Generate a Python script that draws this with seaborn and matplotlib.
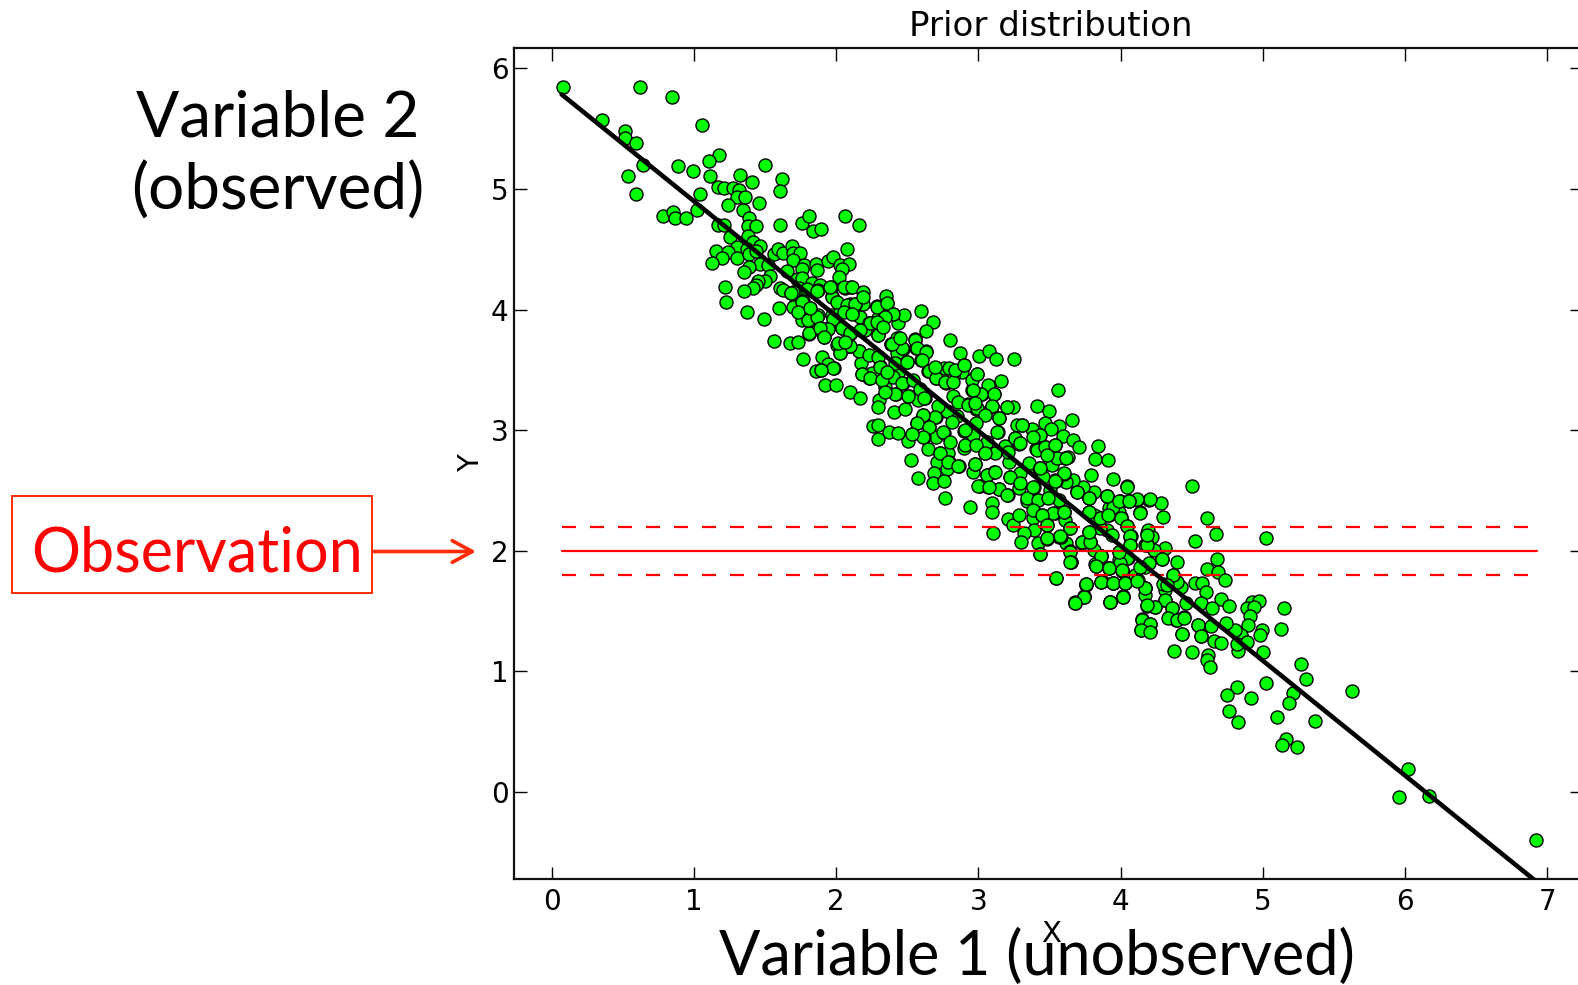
import matplotlib

matplotlib.use("Agg")

import matplotlib.pyplot as plt
import pandas as pd
import seaborn as sns

W, H = 1578, 985

# (variable 1, variable 2) samples, by region
upper_points = [
    (.083, 5.85), (.622, 5.85), (.845, 5.76), (1.055, 5.53), (.357, 5.57), (.517, 5.48), (.519, 5.42), (.591, 5.38),
    (.641, 5.2), (.54, 5.11), (.594, 4.96), (.887, 5.19), (.992, 5.15), (1.177, 5.28), (1.105, 5.23), (1.114, 5.11),
    (1.323, 5.12), (1.503, 5.2), (1.407, 5.06), (1.623, 5.08), (1.606, 4.98), (1.046, 4.96), (1.171, 5.02), (1.21, 5.01),
    (1.278, 5.01), (1.318, 4.99), (1.306, 4.93), (1.356, 4.93), (1.243, 4.87), (1.461, 4.88), (1.346, 4.83), (1.025, 4.83),
    (.786, 4.78), (.851, 4.81), (.866, 4.76), (.943, 4.76), (1.173, 4.70), (1.213, 4.70), (1.386, 4.76), (1.377, 4.69),
    (1.434, 4.69), (1.602, 4.70), (1.761, 4.72), (1.811, 4.78), (1.839, 4.65), (1.892, 4.67), (2.061, 4.78), (2.16, 4.70),
    (1.255, 4.60), (1.377, 4.61), (1.417, 4.56), (1.466, 4.53), (1.306, 4.52), (1.372, 4.50), (1.154, 4.49), (1.243, 4.48),
    (1.196, 4.43), (1.126, 4.39), (1.302, 4.43), (1.384, 4.46), (1.437, 4.49), (1.56, 4.46), (1.594, 4.50), (1.63, 4.47),
    (1.69, 4.53), (1.70, 4.47), (1.747, 4.47), (1.70, 4.41), (1.775, 4.37), (1.763, 4.34), (1.857, 4.38), (1.869, 4.33),
    (1.94, 4.40), (1.977, 4.44), (2.029, 4.37), (2.094, 4.375), (2.08, 4.505), (2.04, 4.34), (2.02, 4.27), (1.466, 4.38),
    (1.524, 4.37), (1.384, 4.35), (1.349, 4.31), (1.654, 4.32), (1.535, 4.28), (1.5, 4.24), (1.453, 4.24), (1.437, 4.20),
    (1.418, 4.18), (1.22, 4.19), (1.349, 4.15), (1.224, 4.06), (1.374, 3.98), (1.6, 4.01), (1.491, 3.92), (1.604, 4.18),
    (1.63, 4.16), (1.681, 4.14), (1.724, 4.25), (1.763, 4.26), (1.738, 4.18), (1.83, 4.22), (1.884, 4.20), (1.794, 4.17),
    (1.873, 4.16), (1.962, 4.19), (1.97, 4.11), (2.061, 4.18), (2.105, 4.19), (1.705, 4.03), (1.765, 4.07), (1.817, 4.01),
    (1.875, 3.955), (1.76, 3.91), (1.81, 3.905), (1.566, 3.74), (1.678, 3.72), (1.73, 3.73), (1.81, 3.80), (1.918, 3.78),
    (1.885, 3.83), (1.946, 3.84), (2.005, 3.71), (2.094, 3.70), (2.04, 3.845), (2.10, 3.80), (1.97, 3.955), (2.029, 3.98),
    (2.11, 3.97), (2.138, 4.04), (2.165, 3.94), (2.10, 4.05),
]
middle_points = [
    (2.595, 3.986), (2.68, 3.897), (2.633, 3.825), (2.804, 3.748), (2.872, 3.643), (3.008, 3.615), (3.078, 3.654),
    (3.123, 3.588), (3.254, 3.588), (3.163, 3.411), (3.557, 3.331), (3.411, 3.198), (3.5, 3.159), (3.205, 3.19),
    (3.247, 3.195), (3.657, 3.085), (3.47, 3.057), (3.568, 3.035), (3.514, 3.013), (3.592, 2.952), (3.665, 2.916),
    (3.711, 2.861), (3.84, 2.872), (3.822, 2.764), (3.909, 2.756), (3.79, 2.626), (3.948, 2.595), (4.046, 2.535),
    (4.197, 2.424), (4.115, 2.424), (4.063, 2.413), (3.995, 2.416), (3.906, 2.454), (3.775, 2.44), (3.81, 2.49),
    (3.693, 2.493), (3.739, 2.532), (3.669, 2.587), (3.617, 2.568), (3.599, 2.64), (3.543, 2.581), (3.547, 2.767),
    (3.61, 2.767), (3.634, 2.781), (3.538, 2.875), (3.474, 2.863), (3.435, 2.96), (3.407, 2.841), (3.376, 3.007),
    (3.308, 3.043), (3.27, 3.043), (3.261, 2.933), (3.289, 2.886), (3.186, 2.872), (3.135, 2.982), (3.147, 3.098),
    (3.095, 3.203), (2.987, 3.176), (2.924, 3.22), (3.111, 3.303), (3.074, 3.369), (3.025, 3.297), (2.992, 3.466),
    (2.958, 3.333), (2.902, 3.541), (2.884, 3.485), (2.802, 3.511), (2.821, 3.444), (2.762, 3.518), (2.771, 3.389),
    (2.701, 3.433), (2.647, 3.491), (2.598, 3.582), (2.633, 3.654), (2.565, 3.684), (2.556, 3.753), (2.469, 3.676),
    (2.445, 3.762), (2.385, 3.712), (2.434, 3.886), (2.4, 3.966), (2.474, 3.953), (2.357, 4.052), (2.285, 4.03),
    (2.192, 4.05), (2.134, 4.043), (2.115, 3.97), (2.232, 3.886), (2.298, 3.928), (2.345, 3.95), (2.293, 3.79),
    (2.094, 3.701), (2.164, 3.66), (2.028, 3.637), (1.916, 3.77), (1.81, 3.805), (1.946, 3.845), (1.899, 3.61),
    (1.766, 3.588), (1.94, 3.546), (1.988, 3.513), (1.86, 3.494), (1.893, 3.5), (1.923, 3.375), (1.998, 3.375),
    (2.098, 3.32), (2.169, 3.264), (2.174, 3.56), (2.298, 3.604), (2.18, 3.466), (2.234, 3.43), (2.361, 3.477),
    (2.31, 3.535), (2.438, 3.477), (2.502, 3.568), (2.469, 3.394), (2.345, 3.361), (2.42, 3.3), (2.3, 3.25),
    (2.293, 3.195), (2.511, 3.286), (2.624, 3.264), (2.579, 3.253), (2.41, 3.148), (2.485, 3.176), (2.612, 3.126),
    (2.568, 3.057), (2.7, 3.112), (2.656, 3.024), (2.771, 3.159), (2.849, 3.118), (2.701, 2.945), (2.759, 2.98),
    (2.619, 2.941), (2.532, 2.966), (2.509, 2.908), (2.375, 2.982), (2.438, 2.98), (2.256, 3.035), (2.298, 3.043),
    (2.298, 2.924), (2.647, 2.841), (2.732, 2.814), (2.79, 2.814), (2.525, 2.75), (2.706, 2.733), (2.795, 2.733),
    (2.778, 2.676), (2.861, 2.703), (2.685, 2.648), (2.579, 2.601), (2.682, 2.559), (2.759, 2.576), (2.768, 2.435),
    (2.945, 2.366), (3.097, 2.394), (3.097, 2.324), (3.069, 2.532), (3.012, 2.537), (2.966, 2.651), (2.978, 2.72),
    (2.896, 2.85), (2.907, 2.877), (2.9, 2.997), (2.966, 2.96), (3.048, 2.808), (3.048, 3.14), (3.219, 2.733),
    (3.113, 2.656), (3.224, 2.615), (3.059, 2.628), (3.144, 2.51), (3.207, 2.46), (3.283, 2.518), (3.341, 2.416),
    (3.394, 2.532), (3.418, 2.421), (3.294, 2.642), (3.364, 2.706), (3.43, 2.684), (3.494, 2.717), (3.494, 2.443),
    (3.564, 2.421), (3.599, 2.324), (3.212, 2.261), (3.247, 2.211), (3.283, 2.297), (3.388, 2.27), (3.447, 2.297),
    (3.486, 2.214), (3.54, 2.311), (3.61, 2.255), (3.394, 2.17), (3.318, 2.148), (3.102, 2.148), (3.301, 2.073),
    (3.423, 2.068), (3.482, 2.096), (3.564, 2.112), (3.618, 2.068), (3.435, 1.973), (3.646, 1.998), (3.651, 1.907),
    (3.545, 1.773), (3.758, 1.722), (3.742, 1.625), (3.821, 1.886), (3.868, 1.747), (3.922, 1.857), (4.009, 1.841),
    (3.945, 1.73), (4.033, 1.73), (4.017, 1.625), (3.927, 1.578), (3.68, 1.578), (3.864, 1.957), (3.986, 1.924),
    (4.056, 1.938), (3.786, 2.076), (3.728, 2.068), (3.904, 2.172), (4.068, 2.117), (4.173, 2.048), (4.185, 2.145),
    (3.997, 2.286), (3.916, 2.352), (3.845, 2.28), (3.775, 2.311), (4.138, 2.319), (4.1, 1.799), (4.173, 1.689),
    (4.173, 1.868),
]
lower_points = [
    (4.506, 2.537), (4.047, 2.532), (4.605, 2.275), (4.672, 2.142), (4.522, 2.081), (5.022, 2.109), (4.286, 2.399),
    (4.209, 2.427), (4.115, 2.427), (4.063, 2.413), (3.993, 2.416), (3.908, 2.458), (3.693, 2.49), (3.775, 2.441),
    (4.297, 2.283), (4.138, 2.316), (4.002, 2.283), (3.857, 2.269), (3.775, 2.325), (3.6, 2.325), (3.58, 2.112),
    (3.646, 2.186), (3.786, 2.076), (3.732, 2.076), (4.074, 2.123), (4.192, 2.172), (4.22, 2.117), (4.185, 2.054),
    (4.068, 2.048), (4.314, 2.02), (4.29, 1.929), (4.396, 1.904), (4.677, 1.929), (4.605, 1.852), (4.684, 1.824),
    (4.736, 1.761), (4.366, 1.799), (4.396, 1.741), (4.524, 1.736), (4.571, 1.73), (4.6, 1.656), (4.461, 1.564),
    (4.566, 1.564), (4.705, 1.603), (4.766, 1.545), (4.644, 1.526), (4.921, 1.578), (4.975, 1.584), (4.888, 1.523),
    (4.942, 1.537), (4.907, 1.457), (5.146, 1.523), (5.129, 1.349), (4.893, 1.382), (4.998, 1.343), (4.982, 1.302),
    (4.848, 1.302), (4.807, 1.343), (4.742, 1.404), (4.635, 1.379), (4.543, 1.388), (4.449, 1.448), (4.391, 1.426),
    (4.344, 1.454), (4.36, 1.528), (4.244, 1.531), (4.185, 1.542), (4.31, 1.592), (4.173, 1.689), (4.032, 1.733),
    (3.95, 1.73), (3.861, 1.744), (3.758, 1.719), (3.543, 1.772), (3.744, 1.62), (3.681, 1.57), (3.925, 1.573),
    (4.016, 1.617), (4.15, 1.432), (4.143, 1.343), (4.209, 1.338), (4.204, 1.393), (4.431, 1.31), (4.565, 1.296),
    (4.658, 1.249), (4.703, 1.238), (4.377, 1.172), (4.503, 1.161), (4.618, 1.136), (4.607, 1.095), (4.63, 1.036),
    (4.825, 1.172), (4.818, 1.227), (4.888, 1.241), (5.005, 1.161), (5.268, 1.064), (5.305, .937), (5.026, .904),
    (4.82, .873), (4.752, .807), (4.918, .782), (5.216, .824), (5.188, .735), (5.626, .835), (4.764, .672), (4.827, .583),
    (5.099, .619), (5.371, .591), (5.161, .442), (5.132, .39), (5.244, .376), (3.826, 1.877), (3.922, 1.857), (4.009, 1.835),
    (3.864, 1.957), (3.986, 1.993), (3.81, 2.006), (3.646, 1.993), (3.65, 1.91), (4.049, 1.938), (4.197, 1.896),
    (4.138, 1.868), (4.232, 2.007), (3.997, 1.896), (4.126, 1.758), (4.173, 1.634), (4.314, 1.675), (4.424, 1.697),
    (4.302, 1.725), (3.857, 2.192), (3.775, 2.159), (4.044, 2.206), (3.939, 2.131), (3.991, 2.325), (3.916, 2.297),
    (3.81, 2.297), (3.95, 2.366), (3.528, 2.311), (5.96, -.04), (6.02, .19), (6.17, -.03), (6.92, -.40),
]
# extra samples inside the dense band
core_upper = [
    (1.7, 4.024), (1.759, 4.066), (1.735, 3.983), (1.805, 3.914), (1.864, 3.941), (1.817, 4.01), (1.97, 4.107),
    (2.005, 4.066), (2.075, 4.038), (2.134, 4.044), (2.052, 3.983), (2.115, 3.964), (1.981, 3.923), (1.946, 3.836),
    (2.039, 3.845), (2.098, 3.803), (2.204, 3.831), (2.239, 3.886), (2.286, 4.024), (2.349, 4.113), (2.356, 4.052),
    (2.398, 3.963), (2.345, 3.941), (2.286, 3.9), (2.298, 3.79), (2.387, 3.715), (2.427, 3.762), (2.333, 3.858),
    (2.164, 3.659), (2.098, 3.698), (2.028, 3.637), (2.228, 3.623), (2.298, 3.61), (2.357, 3.477), (2.251, 3.477),
    (2.18, 3.466), (2.24, 3.43), (2.31, 3.527), (2.427, 3.637), (2.415, 3.553), (2.403, 3.441), (2.321, 3.416),
    (1.981, 3.513), (1.892, 3.5), (1.888, 3.845), (1.916, 3.776), (2.016, 3.72), (2.063, 3.734), (2.17, 3.831),
    (1.7, 4.149), (1.682, 4.14), (1.869, 4.157), (1.958, 4.185), (2.058, 4.185), (2.11, 4.19), (2.186, 4.149),
    (2.186, 4.102),
]
core_middle = [
    (2.462, 3.679), (2.392, 3.715), (2.446, 3.762), (2.556, 3.748), (2.567, 3.679), (2.633, 3.651), (2.603, 3.582),
    (2.497, 3.568), (2.65, 3.491), (2.361, 3.48), (2.703, 3.43), (2.462, 3.394), (2.544, 3.416), (2.591, 3.339),
    (2.509, 3.284), (2.62, 3.264), (2.415, 3.3), (2.345, 3.32), (2.697, 3.527), (2.795, 3.518), (2.767, 3.403),
    (2.825, 3.403), (2.837, 3.499), (2.9, 3.54), (2.954, 3.416), (2.99, 3.463), (3.071, 3.375), (3.107, 3.3),
    (3.02, 3.3), (2.961, 3.33), (2.821, 3.284), (2.86, 3.237), (2.93, 3.209), (2.99, 3.181), (3.095, 3.201),
    (3.048, 3.126), (3.142, 3.098), (2.978, 3.224), (3.2, 3.19), (2.78, 3.162), (2.72, 3.203), (2.697, 3.112),
    (2.61, 3.126), (2.569, 3.057), (2.654, 3.024), (2.755, 2.982), (2.614, 2.941), (2.532, 2.966), (2.814, 3.071),
    (2.903, 3.002), (2.985, 3.057), (3.06, 2.905), (3.13, 2.988), (2.985, 2.877), (3.118, 2.814), (3.048, 2.808),
    (2.802, 2.905), (2.732, 2.814), (2.79, 2.739), (2.86, 2.703), (2.978, 2.717), (3.06, 2.628), (3.114, 2.656),
    (3.224, 2.615), (3.294, 2.559), (3.142, 2.51), (3.0, 2.54), (3.072, 2.526), (3.205, 2.463), (3.341, 2.435),
    (3.418, 2.421), (3.259, 2.933), (3.306, 3.043), (3.212, 2.822), (3.294, 2.891), (3.412, 2.836), (3.47, 2.864),
    (3.54, 2.877), (3.435, 2.96), (3.388, 2.946), (3.353, 2.725), (3.435, 2.684), (3.517, 2.711), (3.552, 2.767),
    (3.481, 2.794), (3.617, 2.767), (3.388, 2.532), (3.507, 2.504), (3.542, 2.587), (3.601, 2.642), (3.458, 2.615),
]
core_lower = [
    (3.599, 2.324), (3.54, 2.582), (3.435, 2.684), (3.493, 2.436), (3.388, 2.339), (3.447, 2.297), (3.482, 2.214),
    (3.645, 2.186), (3.576, 2.122), (3.482, 2.104), (3.435, 1.974), (3.645, 1.91), (3.728, 2.076), (3.787, 2.076),
    (3.775, 2.159), (3.857, 2.269), (3.775, 2.436), (3.693, 2.49), (3.908, 2.454), (3.992, 2.416), (4.06, 2.413),
    (3.775, 2.325), (3.915, 2.297), (4.002, 2.275), (4.044, 2.206), (4.068, 2.123), (4.185, 2.048), (4.185, 2.131),
    (4.29, 1.929), (4.068, 2.048), (3.986, 1.993), (3.861, 1.958), (3.826, 1.877), (3.92, 1.86), (4.009, 1.841),
    (3.861, 1.744), (3.95, 1.73), (4.032, 1.73), (3.758, 1.722), (3.744, 1.62), (3.681, 1.57), (3.927, 1.573),
    (4.016, 1.62), (4.173, 1.689), (4.119, 1.752), (4.314, 1.592), (4.361, 1.528), (4.244, 1.537), (4.185, 1.55),
    (4.396, 1.738), (4.372, 1.799), (4.326, 1.716), (4.15, 1.426), (4.208, 1.393), (4.143, 1.343), (4.208, 1.329),
    (4.337, 1.44), (4.396, 1.426), (4.447, 1.445), (4.544, 1.385), (4.567, 1.293), (4.431, 1.313),
]

fit_x = [0.07, 6.92]
fit_y = [5.785, -0.74]
obs_x = [0.07, 6.93]
obs_mean = [2.0, 2.0]
obs_upper = [2.2, 2.2]
obs_lower = [1.8, 1.8]
xticks = [0, 1, 2, 3, 4, 5, 6, 7]
yticks = [0, 1, 2, 3, 4, 5, 6]

samples = pd.DataFrame(
    upper_points + middle_points + lower_points + core_upper + core_middle + core_lower,
    columns=["x", "y"],
)

sns.set_theme(style="white", font="DejaVu Sans", rc={"text.color": "black"})
fig = plt.figure(figsize=(W / 100, H / 100), dpi=100)
ax = fig.add_axes([514 / W, 1 - 878.7 / H, (W + 4 - 514) / W, (878.7 - 48.3) / H])

sns.scatterplot(data=samples, x="x", y="y", color="#00ff00", edgecolor="black", linewidth=1.0, s=88, ax=ax, zorder=2)

for level in (obs_upper, obs_lower):
    sns.lineplot(x=obs_x, y=level, color="#ff0000", lw=1.6, ax=ax, zorder=3, dashes=(6.3, 6.3), errorbar=None)
sns.lineplot(x=obs_x, y=obs_mean, color="#ff0000", lw=1.6, ax=ax, zorder=3, errorbar=None)
sns.lineplot(x=fit_x, y=fit_y, color="black", lw=3.3, ax=ax, zorder=4, errorbar=None)

ax.set_xlim(-0.265, 7.245)
ax.set_ylim(-0.72, 6.167)
ax.set_xticks(xticks)
ax.set_yticks(yticks)
ax.tick_params(direction="in", length=9, width=1, labelsize=20, top=True, right=True, bottom=True, left=True, colors="black")
ax.tick_params(axis="x", pad=7)
ax.tick_params(axis="y", pad=4)
for spine in ax.spines.values():
    spine.set_linewidth(1.6)
    spine.set_color("#111111")
ax.set_title("Prior distribution", fontsize=24.5, pad=9, x=(1051 - 514) / (W + 4 - 514), color="black")
ax.set_xlabel("")
ax.set_ylabel("")


def fx(px):
    return px / W


def fy(py):
    return 1 - py / H


side_font = ["Lato", "DejaVu Sans"]
fig.text(fx(471), fy(463), "Y", fontsize=21, rotation=90, ha="center", va="center", color="black")
fig.text(fx(1051), fy(934), "X", fontsize=21, ha="center", va="center", color="black")
fig.text(fx(278), fy(155), "Variable 2\n(observed)", fontsize=46, family=side_font, ha="center", va="center", color="black", linespacing=1.28)
fig.text(fx(1037), fy(957), "Variable 1 (unobserved)", fontsize=44, family=side_font, ha="center", va="center", color="black")
fig.text(fx(197), fy(554), "Observation", fontsize=44, family=side_font, ha="center", va="center", color="#ff0000")
fig.add_artist(plt.Rectangle((fx(11.5), fy(593)), 360 / W, 97 / H, transform=fig.transFigure, fill=False, edgecolor="#ff2a00", lw=1.4))
ax.annotate("", xy=(fx(476), fy(551.5)), xytext=(fx(374), fy(551.5)), xycoords="figure fraction", textcoords="figure fraction",
            arrowprops=dict(arrowstyle="->,head_length=1.2,head_width=0.65", color="#ff2a00", lw=2.6, shrinkA=0, shrinkB=0))

fig.savefig("out.png", dpi=100)
plt.close(fig)
